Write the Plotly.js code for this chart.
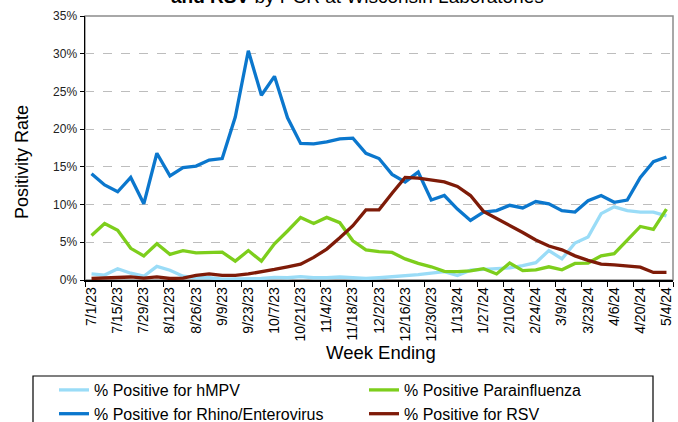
<!DOCTYPE html>
<html>
<head>
<meta charset="utf-8">
<script src="https://cdn.plot.ly/plotly-3.0.1.min.js"></script>
<style>html,body{margin:0;padding:0;background:#fff;overflow:hidden;width:678px;height:422px;}#chart{width:678px;height:450px;}</style>
</head>
<body>
<div id="chart"></div>
<script>
const weeks = ["7/1/23","7/8/23","7/15/23","7/22/23","7/29/23","8/5/23","8/12/23","8/19/23","8/26/23","9/2/23","9/9/23","9/16/23","9/23/23","9/30/23","10/7/23","10/14/23","10/21/23","10/28/23","11/4/23","11/11/23","11/18/23","11/25/23","12/2/23","12/9/23","12/16/23","12/23/23","12/30/23","1/6/24","1/13/24","1/20/24","1/27/24","2/3/24","2/10/24","2/17/24","2/24/24","3/2/24","3/9/24","3/16/24","3/23/24","3/30/24","4/6/24","4/13/24","4/20/24","4/27/24","5/4/24"];
const tickLabels = ["7/1/23","7/15/23","7/29/23","8/12/23","8/26/23","9/9/23","9/23/23","10/7/23","10/21/23","11/4/23","11/18/23","12/2/23","12/16/23","12/30/23","1/13/24","1/27/24","2/10/24","2/24/24","3/9/24","3/23/24","4/6/24","4/20/24","5/4/24"];
const hmpv = [0.8,0.65,1.5,0.9,0.5,1.8,1.3,0.5,0.3,0.3,0.1,0.1,0.1,0.2,0.35,0.3,0.45,0.3,0.3,0.4,0.3,0.2,0.3,0.4,0.6,0.7,0.9,1.1,0.6,1.3,1.4,1.5,1.6,1.9,2.3,3.9,2.8,4.9,5.7,8.8,9.7,9.2,9.0,9.0,8.5];
const para = [5.9,7.5,6.6,4.2,3.2,4.8,3.4,3.9,3.6,3.6,3.7,2.5,3.9,2.5,4.8,6.5,8.3,7.5,8.3,7.6,5.2,4.0,3.75,3.65,2.8,2.2,1.75,1.15,1.1,1.2,1.5,0.8,2.25,1.25,1.35,1.75,1.35,2.2,2.25,3.2,3.5,5.3,7.1,6.7,9.4];
const rhino = [14.1,12.6,11.7,13.6,10.1,16.8,13.8,14.9,15.1,15.9,16.1,21.6,30.4,24.5,27.0,21.5,18.1,18.05,18.3,18.7,18.8,16.8,16.1,14.0,13.0,14.3,10.6,11.2,9.4,7.9,9.0,9.2,9.9,9.55,10.4,10.1,9.2,9.0,10.5,11.2,10.3,10.6,13.6,15.7,16.3];
const rsv = [0.2,0.25,0.4,0.4,0.25,0.4,0.2,0.25,0.6,0.8,0.6,0.6,0.8,1.05,1.4,1.75,2.1,3.0,4.1,5.6,7.2,9.3,9.3,11.5,13.6,13.5,13.2,13.0,12.4,11.2,9.1,8.2,7.2,6.3,5.3,4.5,4.0,3.2,2.6,2.1,2.0,1.9,1.7,1.0,1.0];
const yTicks = [0,5,10,15,20,25,30,35];
const yTickLabels = ["0%","5%","10%","15%","20%","25%","30%","35%"];

const mk = (name, y, color) => ({x: weeks, y: y, name: name, type: 'scatter', mode: 'lines',
  line: {color: color, width: 3.3}, hoverinfo: 'x+y'});
const data = [
  mk('% Positive for hMPV', hmpv, '#9ADCF7'),
  mk('% Positive Parainfluenza', para, '#7DCE1C'),
  mk('% Positive for Rhino/Enterovirus', rhino, '#0B77CD'),
  mk('% Positive for RSV', rsv, '#7E1B08')
];
const F = 'Arial, "Liberation Sans", sans-serif';
const H = 450;
const plotTop = 16, plotBottom = 280;
const ph = plotBottom - plotTop;
const py = (pix) => (plotBottom - pix) / ph;
const px = (pix) => (pix - 85) / 588;
const layout = {
  width: 678, height: H,
  margin: {l: 85, r: 5, t: plotTop, b: H - plotBottom, autoexpand: false},
  paper_bgcolor: '#fff', plot_bgcolor: '#fff',
  showlegend: true,
  xaxis: {type: 'category', range: [-0.5, 44.5], tickvals: tickLabels, tickangle: -90,
    tickson: 'boundaries', ticks: 'outside', ticklen: 5, tickcolor: '#000', tickwidth: 1,
    showgrid: false, zeroline: false, showline: true, linecolor: '#000', linewidth: 1.5,
    tickfont: {family: F, size: 14, color: '#000'}},
  yaxis: {range: [0, 35], tickvals: yTicks, ticktext: yTickLabels, ticks: 'outside', ticklen: 4,
    tickcolor: '#000', showgrid: true, gridcolor: '#bdbdbd', griddash: 'dash', gridwidth: 1,
    zeroline: false, showline: true, linecolor: '#000', linewidth: 1.5,
    tickfont: {family: F, size: 12, color: '#222'}},
  legend: {orientation: 'h', x: px(54), xanchor: 'left', y: py(373), yanchor: 'top',
    entrywidth: 265, entrywidthmode: 'pixels', bgcolor: 'rgba(0,0,0,0)', borderwidth: 0,
    font: {family: F, size: 16, color: '#000'}, traceorder: 'normal'},
  shapes: [
    {type: 'rect', xref: 'paper', yref: 'paper', x0: 0, x1: 1, y0: 0, y1: 1,
     line: {color: '#8c8c8c', width: 1.5}, layer: 'below'},
    {type: 'rect', xref: 'paper', yref: 'paper', x0: px(33), x1: px(653), y0: py(376), y1: py(445),
     line: {color: '#000', width: 1.2}, layer: 'below'}
  ],
  annotations: [
    {text: '<b>and RSV</b> by PCR at Wisconsin Laboratories', xref: 'paper', yref: 'paper',
     x: px(357), y: 1, xanchor: 'center', yanchor: 'bottom', yshift: 7, showarrow: false,
     font: {family: F, size: 19, color: '#000'}},
    {text: 'Positivity Rate', xref: 'paper', yref: 'paper', x: px(22), y: py(162),
     xanchor: 'center', yanchor: 'middle', textangle: -90, showarrow: false,
     font: {family: F, size: 18, color: '#000'}},
    {text: 'Week Ending', xref: 'paper', yref: 'paper', x: px(381), y: py(352),
     xanchor: 'center', yanchor: 'middle', showarrow: false,
     font: {family: F, size: 18.5, color: '#000'}}
  ]
};
Plotly.newPlot('chart', data, layout, {displayModeBar: false, staticPlot: true});
</script>
</body>
</html>
